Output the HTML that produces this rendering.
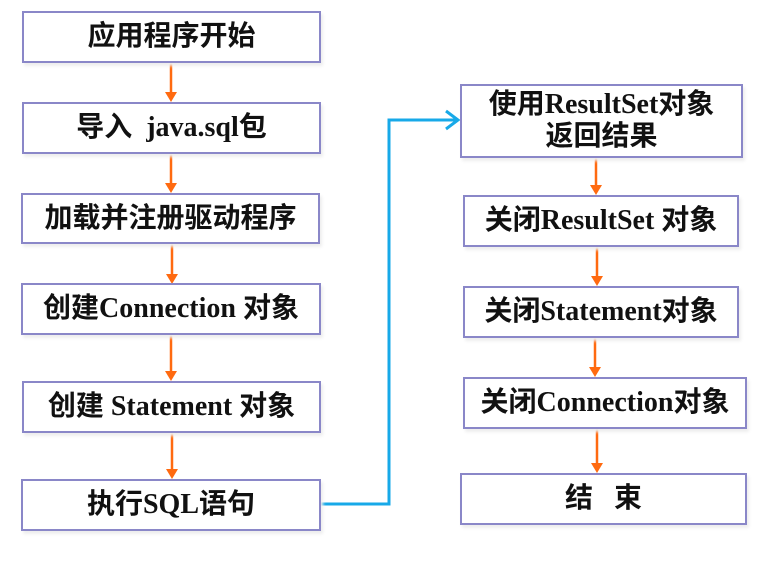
<!DOCTYPE html>
<html><head><meta charset="utf-8"><style>
body{margin:0;width:763px;height:562px;background:#fff;position:relative;overflow:hidden;font-family:"Liberation Serif","Noto Sans CJK SC",serif;}
.b{position:absolute;box-sizing:border-box;border:2px solid #8a87c8;background:#fff;box-shadow:2px 3px 3px #eee;display:flex;align-items:center;justify-content:center;text-align:center;font-weight:bold;font-size:28px;color:#111;line-height:32px;white-space:nowrap;}
svg{position:absolute;left:0;top:0}
</style></head><body>
<svg width="763" height="562">
<g stroke="#ff6a10" stroke-width="2.5" fill="none">
<line x1="171" y1="62" x2="171" y2="94"/><line x1="171" y1="153" x2="171" y2="185"/>
<line x1="172" y1="243" x2="172" y2="276"/><line x1="171" y1="334" x2="171" y2="373"/>
<line x1="172" y1="432" x2="172" y2="471"/>
<line x1="596" y1="157" x2="596" y2="187"/><line x1="597" y1="246" x2="597" y2="278"/>
<line x1="595" y1="337" x2="595" y2="369"/><line x1="597" y1="428" x2="597" y2="465"/>
</g>
<g fill="#ff6a10">
<polygon points="165,92 177,92 171,102"/><polygon points="165,183 177,183 171,193"/>
<polygon points="166,274 178,274 172,284"/><polygon points="165,371 177,371 171,381"/>
<polygon points="166,469 178,469 172,479"/>
<polygon points="590,185 602,185 596,195"/><polygon points="591,276 603,276 597,286"/>
<polygon points="589,367 601,367 595,377"/><polygon points="591,463 603,463 597,473"/>
</g>
<polyline points="320,504 389,504 389,120 458,120" stroke="#17a9e8" stroke-width="3" fill="none"/>
<polyline points="446,111 458,120 446,129" stroke="#17a9e8" stroke-width="3" fill="none"/>
</svg>
<div class="b" style="left:22px;top:11px;width:299px;height:52px">应用程序开始</div>
<div class="b" style="left:22px;top:102px;width:299px;height:52px">导入&nbsp; java.sql包</div>
<div class="b" style="left:21px;top:193px;width:299px;height:51px">加载并注册驱动程序</div>
<div class="b" style="left:21px;top:283px;width:300px;height:52px">创建Connection 对象</div>
<div class="b" style="left:22px;top:381px;width:299px;height:52px">创建 Statement 对象</div>
<div class="b" style="left:21px;top:479px;width:300px;height:52px">执行SQL语句</div>
<div class="b" style="left:460px;top:84px;width:283px;height:74px">使用ResultSet对象<br>返回结果</div>
<div class="b" style="left:463px;top:195px;width:276px;height:52px">关闭ResultSet 对象</div>
<div class="b" style="left:463px;top:286px;width:276px;height:52px">关闭Statement对象</div>
<div class="b" style="left:463px;top:377px;width:284px;height:52px">关闭Connection对象</div>
<div class="b" style="left:460px;top:473px;width:287px;height:52px">结&nbsp;&nbsp;&nbsp;束</div>
</body></html>
